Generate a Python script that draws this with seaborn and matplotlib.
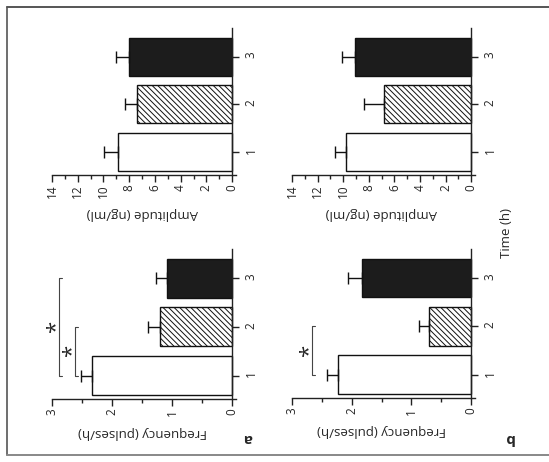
import numpy as np
import pandas as pd
import matplotlib
matplotlib.use("Agg")
import matplotlib.pyplot as plt
from matplotlib.lines import Line2D
from matplotlib.ticker import MultipleLocator
import seaborn as sns

# ---------------- data ----------------
time_labels = ["1", "2", "3"]
freq_a = [2.33, 1.20, 1.09]
freq_a_err = [0.18, 0.20, 0.18]
freq_b = [2.23, 0.71, 1.82]
freq_b_err = [0.18, 0.17, 0.24]
amp_a = [8.90, 7.40, 8.05]
amp_a_err = [1.05, 0.90, 0.95]
amp_b = [9.75, 6.80, 9.05]
amp_b_err = [0.90, 1.55, 1.05]
bar_colors = ["white", "white", "#1c1c1c"]
# significance brackets: (from category index, to category index, value position)
sig_a = [(0, 1, 2.62), (0, 2, 2.88)]
sig_b = [(0, 1, 2.67)]

sns.set_theme(style="ticks")
plt.rcParams["font.family"] = ["Open Sans", "DejaVu Sans"]
plt.rcParams["hatch.linewidth"] = 0.7
plt.rcParams["hatch.color"] = "#333333"

W, H = 549, 462
fig = plt.figure(figsize=(W / 100, H / 100), dpi=100)
fig.patch.set_facecolor("white")


def add_ax(x0, x1, ytop, ybot):
    return fig.add_axes([x0 / W, 1 - ybot / H, (x1 - x0) / W, (ybot - ytop) / H])


def panel(ax, vals, errs, vmax, major, minor, label, sigs=()):
    df = pd.DataFrame({"time": time_labels, "value": vals})
    sns.barplot(data=df, x="value", y="time", hue="time", palette=bar_colors,
                orient="h", width=0.8, edgecolor="#111111", linewidth=1.0,
                legend=False, errorbar=None, ax=ax)
    for bar in ax.containers[1]:
        bar.set_hatch("\\" * 6)
    ax.errorbar(vals, [0, 1, 2], xerr=[np.zeros(3), errs], fmt="none",
                ecolor="#111111", elinewidth=1.0, capsize=4, capthick=1.0)
    ext = vmax * 0.3 / 14
    ax.set_xlim(vmax, -ext)
    ax.set_ylim(-0.48, 2.6)
    ax.set_facecolor("none")
    for s in ["left", "top"]:
        ax.spines[s].set_visible(False)
    ax.spines["right"].set_position(("data", 0))
    for s in ["right", "bottom"]:
        ax.spines[s].set_linewidth(1.0)
        ax.spines[s].set_color("#222222")
    ax.yaxis.tick_right()
    ax.set_ylabel("")
    ax.xaxis.set_major_locator(MultipleLocator(major))
    ax.xaxis.set_minor_locator(MultipleLocator(minor))
    ax.tick_params(axis="x", which="major", length=5, width=1, color="#222222",
                   labelsize=8.5, labelrotation=90, pad=2)
    ax.tick_params(axis="x", which="minor", length=3, width=1, color="#222222")
    ax.tick_params(axis="y", length=5, width=1, color="#222222",
                   labelsize=8.5, labelrotation=90, pad=4)
    ax.set_xlabel(label, rotation=180, fontsize=9.5)
    ax.xaxis.label.set_va("center")
    ax.xaxis.set_label_coords(0.49, -0.26)
    for (i0, i1, xv) in sigs:
        d = vmax * 0.05 / 3
        ax.plot([xv - d, xv, xv, xv - d], [i0, i0, i1, i1], color="#444444",
                lw=0.8, clip_on=False)
        ax.text(xv + vmax * 0.05 / 3, (i0 + i1) / 2, "*", rotation=90,
                ha="center", va="center", fontsize=16, clip_on=False)


ax1 = add_ax(52, 236, 28, 175)
panel(ax1, amp_a, amp_a_err, 14, 2, 1, "Amplitude (ng/ml)")
ax2 = add_ax(292, 475, 28, 175)
panel(ax2, amp_b, amp_b_err, 14, 2, 1, "Amplitude (ng/ml)")
ax3 = add_ax(52, 236, 249, 399)
panel(ax3, freq_a, freq_a_err, 3, 1, 0.5, "Frequency (pulses/h)", sig_a)
ax4 = add_ax(292, 475, 249, 398)
panel(ax4, freq_b, freq_b_err, 3, 1, 0.5, "Frequency (pulses/h)", sig_b)
for ax in (ax3, ax4):
    ax.xaxis.set_label_coords(0.49, -0.22)

fig.text(248 / W, 1 - 438 / H, "a", rotation=180, fontweight="bold",
         fontsize=11, ha="center", va="center")
fig.text(509 / W, 1 - 438 / H, "b", rotation=180, fontweight="bold",
         fontsize=11, ha="center", va="center")
fig.text(506 / W, 1 - 233 / H, "Time (h)", rotation=90, fontsize=9.5,
         ha="center", va="center")

# page frame
fig.add_artist(Line2D([7 / W, 1], [1 - 7 / H, 1 - 7 / H], transform=fig.transFigure,
                      color="#555555", lw=1.4))
fig.add_artist(Line2D([7 / W, 7 / W], [1 - 7 / H, 1 - 455 / H], transform=fig.transFigure,
                      color="#555555", lw=1.2))
fig.add_artist(Line2D([7 / W, 1], [1 - 455 / H, 1 - 455 / H], transform=fig.transFigure,
                      color="#888888", lw=1.4))

fig.savefig("out.png", dpi=100)
